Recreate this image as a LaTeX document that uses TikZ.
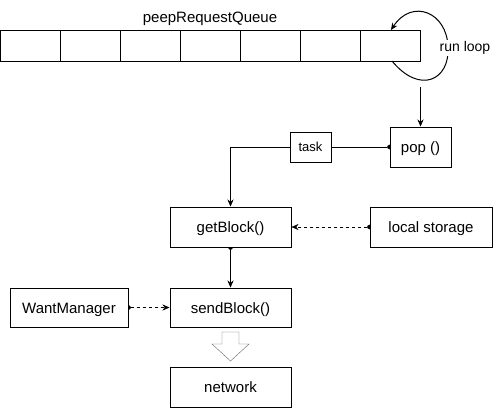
\documentclass[tikz,border=0pt]{standalone}
\usepackage{fontspec}
\setmainfont{Liberation Sans}
\usetikzlibrary{arrows.meta}
\pgfdeclarelayer{bg}
\pgfsetlayers{bg,main}
\begin{document}
\begin{tikzpicture}[x=1pt,y=-1pt,line width=1pt,
  box/.style={draw,fill=white,inner sep=0pt,text height=11pt,text depth=0pt,font=\fontsize{15}{18}\selectfont},
  cell/.style={draw,minimum width=60pt,minimum height=31pt,inner sep=0pt},
  conn/.style={-{Stealth[length=7pt,width=6pt]}},
  dotconn/.style={{Circle[length=4.5pt]}-{Stealth[length=7pt,width=6pt]},shorten <=-2.25pt},
  dsh/.style={dash pattern=on 3pt off 3pt}]
\useasboundingbox (0,0) rectangle (501,408);
\foreach \i in {1,...,7}{
  \node[cell] (q\i) at ({60*\i-30},45.5) {};
}
\node[font=\fontsize{15}{18}\selectfont] (qlabel) at (210,19) {peepRequestQueue};
% run loop
\coordinate (ls) at (392,61);
\coordinate (le) at (391,30);
\draw[conn] (ls) .. controls (420,95) and (450,80) .. (448,47)
  .. controls (447,12) and (412,-2) .. (le);
\node[fill=white,inner sep=1pt,font=\fontsize{14}{17}\selectfont] (rl) at (465,48) {run loop};
% boxes
\node[box,minimum width=61pt,minimum height=40pt] (pop) at (420.5,147) {pop ()};
\node[box,minimum width=121pt,minimum height=40pt] (get) at (230.5,227) {getBlock()};
\node[box,minimum width=122pt,minimum height=40pt] (local) at (431,227) {local storage};
\node[box,minimum width=121pt,minimum height=39pt] (send) at (230.5,307.5) {sendBlock()};
\node[box,minimum width=118pt,minimum height=39pt] (want) at (69,307.5) {WantManager};
\node[box,minimum width=121pt,minimum height=40pt] (net) at (230.5,387) {network};
\node[box,minimum width=41pt,minimum height=30pt,text height=9.5pt,font=\fontsize{13}{16}\selectfont] (task) at (310.5,147) {task};
% connectors
\coordinate (lp) at (420.5,87);
\begin{pgfonlayer}{bg}
\draw[conn] (lp) -- (pop.north);
\draw[dotconn] (pop.west) -- (230.5,147) -- (get.north);
\draw[dotconn,dsh] (local.west) -- (get.east);
\draw[dotconn] (get.south) -- (send.north);
\draw[dotconn,dsh] (want.east) -- (send.west);
\end{pgfonlayer}
% hollow arrow
\draw[gray!80!black,fill=white,line join=miter] (222,332) -- (239,332) -- (239,344) -- (249,344) -- (230.5,361) -- (212,344) -- (222,344) -- cycle;
\end{tikzpicture}
\end{document}
